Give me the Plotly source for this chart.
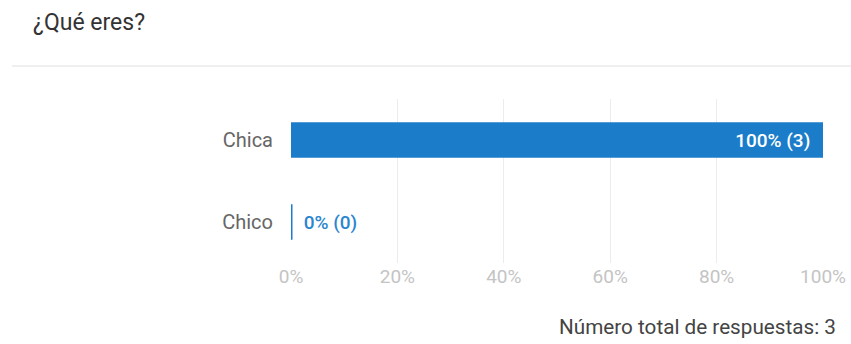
import plotly.graph_objects as go

categories = ["Chica", "Chico"]
percents = [100, 0]
counts = [3, 0]
tick_vals = [0, 20, 40, 60, 80, 100]
tick_text = ["0%", "20%", "40%", "60%", "80%", "100%"]
title_text = "¿Qué eres?"
total_text = "Número total de respuestas: 3"

BLUE = "#1b7dc9"

labels = [f"{p}% ({c})\u2002" if p > 0 else f"\u2002{p}% ({c})" for p, c in zip(percents, counts)]

fig = go.Figure(go.Bar(
    y=categories,
    x=percents,
    orientation="h",
    width=0.43,
    marker=dict(color=BLUE, line=dict(color=BLUE, width=[0, 3])),
    text=labels,
    textposition=["inside", "outside"],
    insidetextanchor="end",
    textfont=dict(family="Roboto", size=19, color=["white", "#2a86cf"], weight=500),
    cliponaxis=False,
    constraintext="none",
    hoverinfo="skip",
))

fig.update_layout(
    width=851, height=344,
    margin=dict(l=291, r=28, t=99, b=81, autoexpand=False),
    paper_bgcolor="white", plot_bgcolor="white",
    showlegend=False,
    font=dict(family="Roboto"),
    xaxis=dict(
        range=[0, 100], tickvals=tick_vals, ticktext=tick_text,
        showgrid=True, gridcolor="#ececec", gridwidth=1,
        zeroline=False, showline=False, automargin=False,
        tickfont=dict(family="Roboto", size=19, color="#c4c4c4"),
        ticks="",
        fixedrange=True,
    ),
    yaxis=dict(
        categoryorder="array", categoryarray=categories,
        range=[1.5, -0.5],
        showgrid=False, zeroline=False, showline=False, automargin=False,
        tickfont=dict(family="Roboto", size=20, color="#666666"),
        ticks="outside", ticklen=13, tickcolor="rgba(0,0,0,0)",
        fixedrange=True,
    ),
    annotations=[
        dict(text=title_text, xref="paper", yref="paper", x=-291/532 + 31/532, y=1 + (99 - 22) / 164,
             xanchor="left", yanchor="middle", showarrow=False,
             font=dict(family="Roboto", size=23, color="#333333")),
        dict(text=total_text, xref="paper", yref="paper", x=1 + 15/532, y=-(327 - 263) / 164,
             xanchor="right", yanchor="middle", showarrow=False,
             font=dict(family="Roboto", size=20.7, color="#444444")),
    ],
    shapes=[
        dict(type="line", xref="paper", yref="paper",
             x0=-279/532, x1=1 + 28/532, y0=1 + (99 - 66) / 164, y1=1 + (99 - 66) / 164,
             line=dict(color="#e0e0e0", width=1)),
    ],
)

fig.write_html("out.html")
